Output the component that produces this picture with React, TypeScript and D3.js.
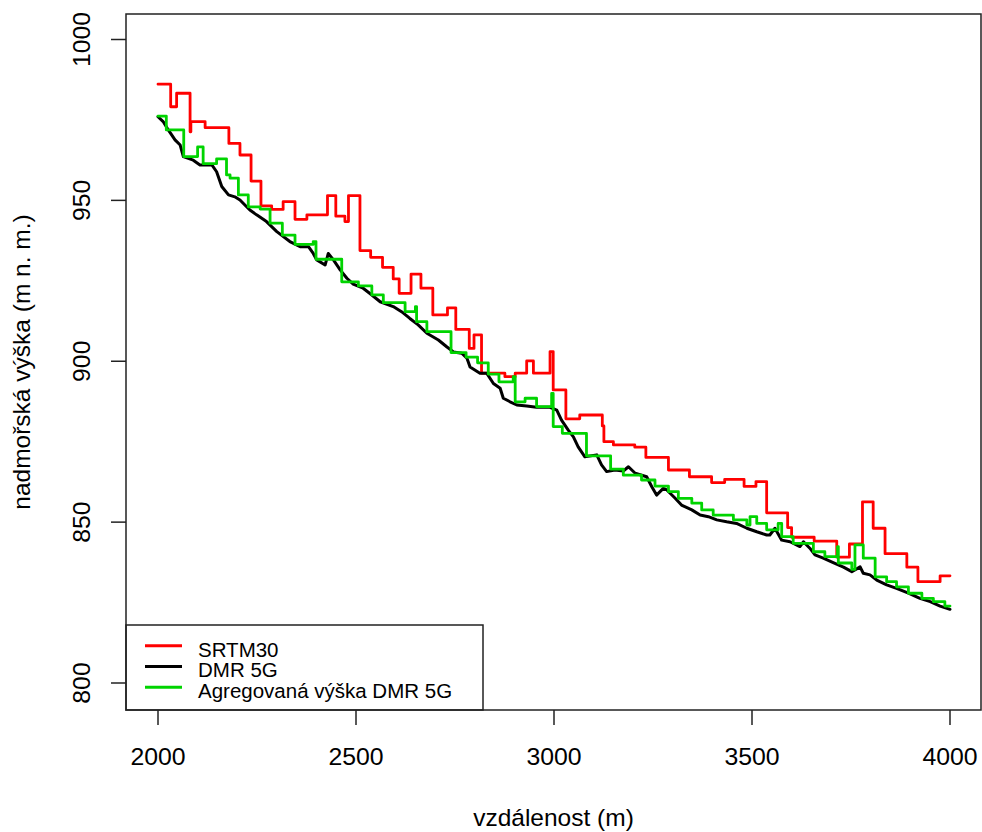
import React, { useEffect } from "react";
import * as d3 from "d3";

// SRTM30 (step)
const srtmDist = [2000, 2032, 2047, 2081, 2083, 2119, 2179, 2207, 2235, 2260, 2287, 2316, 2346, 2376, 2428, 2449, 2472, 2481, 2510, 2537, 2567, 2594, 2609, 2639, 2664, 2694, 2731, 2752, 2786, 2798, 2817, 2876, 2902, 2931, 2948, 2990, 2998, 3030, 3065, 3122, 3126, 3150, 3204, 3232, 3289, 3342, 3398, 3431, 3480, 3510, 3537, 3590, 3600, 3657, 3714, 3746, 3779, 3806, 3836, 3891, 3919, 3975, 4000];
const srtmElev = [986.1, 979.1, 983.3, 971.3, 974.5, 972.6, 967.7, 964.1, 956.0, 948.3, 947.2, 949.6, 944.1, 945.5, 951.5, 945.1, 943.4, 951.5, 934.4, 932.3, 929.2, 925.6, 921.1, 927.1, 922.7, 914.4, 916.6, 909.9, 904.0, 908.2, 896.3, 895.2, 896.3, 900.1, 896.3, 903.0, 891.1, 882.1, 883.3, 879.9, 875.0, 874.0, 873.3, 870.1, 866.2, 864.1, 862.3, 863.3, 861.1, 862.6, 852.9, 848.3, 845.3, 844.1, 839.1, 843.2, 856.3, 848.1, 840.2, 836.0, 831.5, 833.3, 833.3];

// DMR 5G (fine line)
const dmrDist = [2000, 2013, 2026, 2043, 2056, 2064, 2089, 2106, 2136, 2148, 2161, 2178, 2194, 2207, 2232, 2249, 2274, 2300, 2333, 2359, 2380, 2392, 2401, 2422, 2430, 2443, 2460, 2477, 2493, 2518, 2540, 2561, 2594, 2615, 2636, 2657, 2679, 2708, 2729, 2746, 2767, 2780, 2788, 2813, 2830, 2847, 2864, 2872, 2889, 2906, 2931, 2956, 2990, 3007, 3019, 3036, 3049, 3061, 3078, 3108, 3120, 3133, 3154, 3175, 3188, 3205, 3234, 3247, 3259, 3276, 3285, 3306, 3322, 3348, 3369, 3390, 3411, 3436, 3461, 3487, 3512, 3537, 3545, 3558, 3575, 3596, 3621, 3630, 3646, 3659, 3680, 3705, 3731, 3752, 3773, 3781, 3798, 3815, 3840, 3865, 3895, 3924, 3950, 3975, 4000];
const dmrElev = [976.0, 974.5, 971.9, 968.8, 967.2, 963.6, 962.5, 961.0, 961.0, 958.9, 954.3, 951.7, 951.1, 950.1, 947.0, 945.5, 943.4, 940.3, 937.2, 935.6, 935.6, 933.5, 931.5, 929.9, 933.5, 931.5, 928.4, 925.8, 924.0, 922.7, 920.6, 918.5, 917.0, 915.4, 913.3, 911.3, 908.7, 906.6, 904.5, 902.9, 902.5, 901.0, 898.2, 896.3, 896.3, 893.1, 891.6, 888.5, 887.4, 886.4, 886.1, 885.7, 885.7, 884.8, 881.7, 878.6, 876.5, 873.4, 870.3, 870.9, 867.8, 865.7, 866.2, 865.9, 867.2, 865.2, 864.1, 861.0, 858.4, 860.5, 860.0, 857.4, 855.3, 853.8, 852.2, 851.7, 850.7, 850.1, 849.6, 848.1, 847.0, 846.0, 846.0, 848.1, 844.4, 843.9, 842.4, 843.9, 841.9, 839.8, 838.8, 837.4, 836.0, 834.6, 836.1, 834.1, 833.6, 832.0, 830.5, 829.4, 827.9, 826.3, 825.3, 823.9, 822.9];

// Agregovaná výška DMR 5G (step)
const aggDist = [2000, 2021, 2065, 2100, 2114, 2148, 2173, 2182, 2203, 2228, 2258, 2283, 2314, 2346, 2392, 2399, 2464, 2506, 2540, 2569, 2624, 2650, 2653, 2679, 2740, 2778, 2807, 2834, 2861, 2897, 2902, 2927, 2956, 2994, 2998, 3021, 3082, 3143, 3175, 3221, 3255, 3289, 3314, 3348, 3373, 3402, 3453, 3487, 3495, 3512, 3537, 3566, 3575, 3604, 3655, 3684, 3716, 3718, 3752, 3760, 3781, 3811, 3840, 3865, 3895, 3929, 3958, 3987, 4000];
const aggElev = [976.2, 971.9, 963.6, 966.6, 961.4, 962.9, 957.9, 956.9, 951.7, 948.0, 947.3, 942.9, 939.2, 936.3, 937.2, 931.7, 924.7, 923.4, 920.6, 918.2, 915.4, 917.0, 912.3, 909.2, 902.7, 901.3, 899.5, 896.0, 893.6, 895.2, 887.4, 888.5, 885.9, 890.0, 879.7, 877.6, 870.6, 866.5, 864.6, 863.1, 861.2, 859.5, 857.4, 855.9, 853.8, 852.2, 850.7, 849.1, 851.7, 849.6, 847.6, 849.6, 845.5, 843.4, 840.8, 839.3, 842.4, 837.3, 835.3, 842.9, 838.8, 833.0, 831.5, 829.9, 827.9, 826.3, 825.3, 823.9, 823.9];

const xTicks = [2000, 2500, 3000, 3500, 4000];
const yTicks = [800, 850, 900, 950, 1000];
const legendLabels = ["SRTM30", "DMR 5G", "Agregovaná výška DMR 5G"];
const xTitle = "vzdálenost (m)";
const yTitle = "nadmořská výška (m n. m.)";

const RED = "#ff0000";
const BLACK = "#000000";
const GREEN = "#00d400";
const FONT = "'Liberation Sans', Arial, sans-serif";

export default function App() {
  useEffect(() => {
    document.body.style.margin = "0";
  }, []);

  const W = 982;
  const H = 832;
  const box = { left: 126, top: 14, right: 981, bottom: 710 };

  const x = d3.scaleLinear().domain([2000, 4000]).range([158, 950]);
  const y = d3.scaleLinear().domain([800, 1000]).range([683, 39.5]);

  const stepLine = d3
    .line<[number, number]>()
    .x((p) => x(p[0]))
    .y((p) => y(p[1]))
    .curve(d3.curveStepAfter);
  const plainLine = d3
    .line<[number, number]>()
    .x((p) => x(p[0]))
    .y((p) => y(p[1]));

  const srtm = d3.zip(srtmDist, srtmElev) as [number, number][];
  const dmr = d3.zip(dmrDist, dmrElev) as [number, number][];
  const agg = d3.zip(aggDist, aggElev) as [number, number][];

  const legendColors = [RED, BLACK, GREEN];
  const legendBox = { left: 126, top: 625, right: 483, bottom: 710 };
  const legendRowY = [645.7, 666.5, 687.3];

  return (
    <svg
      width={W}
      height={H}
      style={{ position: "absolute", left: 0, top: 0, background: "#fff" }}
      fontFamily={FONT}
    >
      <rect x={0} y={0} width={W} height={H} fill="#fff" />
      {/* series */}
      <path d={stepLine(srtm) || ""} fill="none" stroke={RED} strokeWidth={2.8} strokeLinejoin="round" strokeLinecap="round" />
      <path d={plainLine(dmr) || ""} fill="none" stroke={BLACK} strokeWidth={3} strokeLinejoin="round" strokeLinecap="round" />
      <path d={stepLine(agg) || ""} fill="none" stroke={GREEN} strokeWidth={2.8} strokeLinejoin="round" strokeLinecap="round" />

      {/* legend */}
      <rect
        x={legendBox.left}
        y={legendBox.top}
        width={legendBox.right - legendBox.left}
        height={legendBox.bottom - legendBox.top}
        fill="#fff"
        stroke="#222"
        strokeWidth={1.5}
      />
      {legendLabels.map((lab, i) => (
        <g key={lab}>
          <line x1={145} x2={182} y1={legendRowY[i]} y2={legendRowY[i]} stroke={legendColors[i]} strokeWidth={3} />
          <text x={198} y={legendRowY[i] + 10.8} fontSize={20.5} fill="#000">
            {lab}
          </text>
        </g>
      ))}

      {/* frame */}
      <rect
        x={box.left}
        y={box.top}
        width={box.right - box.left}
        height={box.bottom - box.top}
        fill="none"
        stroke="#222"
        strokeWidth={1.5}
      />

      {/* x axis */}
      {xTicks.map((t) => (
        <g key={"x" + t}>
          <line x1={x(t)} x2={x(t)} y1={box.bottom} y2={box.bottom + 15} stroke="#222" strokeWidth={1.5} />
          <text x={x(t)} y={764.5} fontSize={24.8} textAnchor="middle" fill="#000">
            {t}
          </text>
        </g>
      ))}
      {/* y axis */}
      {yTicks.map((t) => (
        <g key={"y" + t}>
          <line x1={box.left - 15} x2={box.left} y1={y(t)} y2={y(t)} stroke="#222" strokeWidth={1.5} />
          <text
            transform={`translate(90, ${y(t)}) rotate(-90)`}
            fontSize={24.8}
            textAnchor="middle"
            fill="#000"
          >
            {t}
          </text>
        </g>
      ))}

      <text x={(box.left + box.right) / 2} y={826} fontSize={24.5} textAnchor="middle" fill="#000">
        {xTitle}
      </text>
      <text
        transform={`translate(30, ${(box.top + box.bottom) / 2}) rotate(-90)`}
        fontSize={24.5}
        textAnchor="middle"
        fill="#000"
      >
        {yTitle}
      </text>
    </svg>
  );
}
